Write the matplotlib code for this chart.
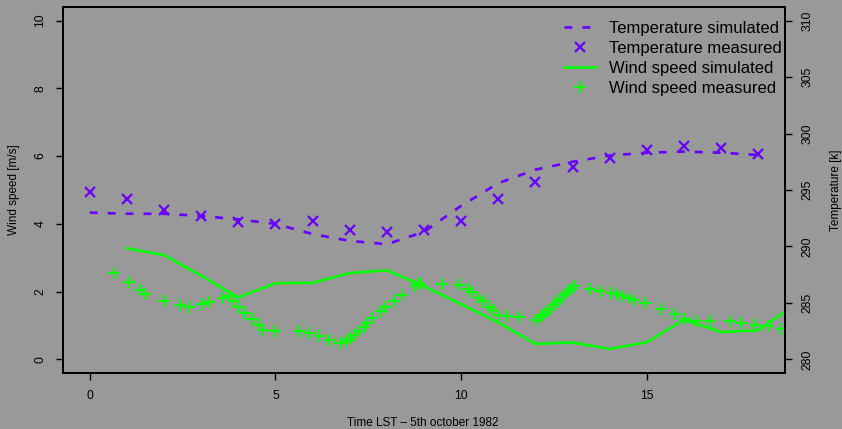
import numpy as np
import matplotlib
matplotlib.use("Agg")
from matplotlib import pyplot as plt
from matplotlib.lines import Line2D

## Data ----------------------------------
hours = list(range(19))

temp_measured = [294.8, 294.2, 293.2, 292.7, 292.2, 292.0, 292.3, 291.5, 291.3, 291.5,
                 292.3, 294.2, 295.7, 297.0, 297.8, 298.5, 298.9, 298.7, 298.2]

temp_simulated = [293.0, 292.9, 292.9, 292.7, 292.4, 292.0, 291.1, 290.5, 290.2, 291.3,
                  293.6, 295.6, 296.8, 297.5, 298.05, 298.3, 298.4, 298.3, 298.1]

wind_sim_hours = list(range(1, 20))
wind_simulated = [3.28, 3.08, 2.47, 1.83, 2.25, 2.26, 2.55, 2.63, 2.16, 1.63,
                  1.09, 0.46, 0.50, 0.31, 0.51, 1.17, 0.81, 0.86, 1.63]

wind_meas_time = [0.65, 1.05, 1.34, 1.48, 2.01, 2.42, 2.67, 3.03, 3.20, 3.58,
                  3.74, 3.86, 4.01, 4.19, 4.37, 4.55, 4.66, 5.00, 5.63, 5.90,
                  6.16, 6.43, 6.75, 6.93, 7.02, 7.11, 7.24, 7.38, 7.47, 7.60,
                  7.83, 7.96, 8.19, 8.41, 8.77, 8.84, 8.90, 9.49, 9.95, 10.18,
                  10.30, 10.48, 10.59, 10.75, 10.86, 11.00, 11.23, 11.57, 12.02, 12.11,
                  12.20, 12.29, 12.38, 12.49, 12.58, 12.67, 12.76, 12.85, 12.96, 13.05,
                  13.48, 13.75, 14.04, 14.20, 14.33, 14.51, 14.65, 14.96, 15.38, 15.77,
                  16.04, 16.33, 16.71, 17.25, 17.54, 17.91, 18.27, 18.60]
wind_measured = [2.55, 2.30, 2.04, 1.93, 1.73, 1.62, 1.55, 1.64, 1.70, 1.81,
                 1.86, 1.73, 1.54, 1.37, 1.19, 1.02, 0.86, 0.85, 0.85, 0.78,
                 0.68, 0.58, 0.48, 0.53, 0.63, 0.73, 0.83, 0.97, 1.07, 1.22,
                 1.42, 1.54, 1.71, 1.91, 2.16, 2.26, 2.23, 2.22, 2.20, 2.08,
                 1.99, 1.82, 1.73, 1.56, 1.47, 1.32, 1.27, 1.25, 1.17, 1.24,
                 1.32, 1.40, 1.50, 1.62, 1.70, 1.79, 1.91, 1.99, 2.09, 2.18,
                 2.09, 2.03, 1.96, 1.93, 1.86, 1.81, 1.76, 1.67, 1.49, 1.35,
                 1.20, 1.14, 1.14, 1.12, 1.09, 1.03, 1.00, 0.90]

x_ticks = [0, 5, 10, 15]
wind_ticks = [0, 2, 4, 6, 8, 10]
temp_ticks = [280, 285, 290, 295, 300, 305, 310]

## Style ----------------------------------
BG = "#999999"
PURPLE = "#6600ff"
GREEN = "#00ff00"

plt.rcParams["font.family"] = ["Liberation Sans", "DejaVu Sans"]

fig = plt.figure(figsize=(8.42, 4.29), dpi=100)
fig.patch.set_facecolor(BG)
ax = fig.add_axes([63 / 842, 1 - 373 / 429, 722 / 842, 366 / 429])
ax.set_facecolor(BG)
ax2 = ax.twinx()

# Wind speed (left axis) ----------------------------------
ax.plot(wind_sim_hours, wind_simulated, color=GREEN, linewidth=1.9, zorder=3)
ax.plot(wind_meas_time, wind_measured, linestyle="none", marker="+",
        markersize=8.5, markeredgewidth=1.5, color=GREEN, zorder=4)

# Temperature (right axis) ----------------------------------
ax2.plot(hours, temp_simulated, color=PURPLE, linewidth=1.9,
         linestyle=(0, (3.0, 3.8)), zorder=3)
ax2.plot(hours, temp_measured, linestyle="none", marker="x",
         markersize=6.5, markeredgewidth=1.6, color=PURPLE, zorder=4)

ax.set_xlim(-0.72, 18.72)
ax.set_ylim(-0.4, 10.4)
ax2.set_ylim(278.8, 311.2)

ax.set_xticks(x_ticks)
ax.set_yticks(wind_ticks)
ax2.set_yticks(temp_ticks)
for a in (ax, ax2):
    for spine in a.spines.values():
        spine.set_linewidth(1.4)
        spine.set_color("black")
ax.tick_params(axis="x", direction="out", length=5, width=1.0, pad=7,
               labelsize=8.8, colors="black")
ax.tick_params(axis="y", direction="out", length=5, width=1.0, pad=7,
               labelsize=8.8, colors="black", labelrotation=90)
ax2.tick_params(axis="y", direction="out", length=5, width=1.0, pad=7,
                labelsize=8.8, colors="black", labelrotation=90)
for lbl in ax.get_yticklabels() + ax2.get_yticklabels():
    lbl.set_verticalalignment("center")

fig.text(14 / 842, 1 - 190 / 429, "Wind speed [m/s]", rotation=90,
         ha="center", va="center", fontsize=8.5)
fig.text(836 / 842, 1 - 190 / 429, "Temperature [k]", rotation=90,
         ha="center", va="center", fontsize=8.5)
fig.text(423 / 842, 1 - 423 / 429, "Time LST \u2013 5th october 1982",
         ha="center", va="center", fontsize=8.5)

# Legend ----------------------------------
handles = [
    Line2D([], [], color=PURPLE, linewidth=1.9, linestyle=(0, (3.0, 3.8))),
    Line2D([], [], color=PURPLE, linestyle="none", marker="x",
           markersize=6.5, markeredgewidth=1.6),
    Line2D([], [], color=GREEN, linewidth=1.9),
    Line2D([], [], color=GREEN, linestyle="none", marker="+",
           markersize=8.5, markeredgewidth=1.5),
]
labels = ["Temperature simulated", "Temperature measured",
          "Wind speed simulated", "Wind speed measured"]
leg = ax2.legend(handles, labels, loc="upper left", frameon=False,
                 bbox_to_anchor=(487 / 722, 1.0), borderaxespad=0.65,
                 fontsize=12, handlelength=1.9, handletextpad=0.8,
                 labelspacing=0.29, borderpad=0.2)

fig.savefig("out.png", dpi=100, facecolor=fig.get_facecolor())
